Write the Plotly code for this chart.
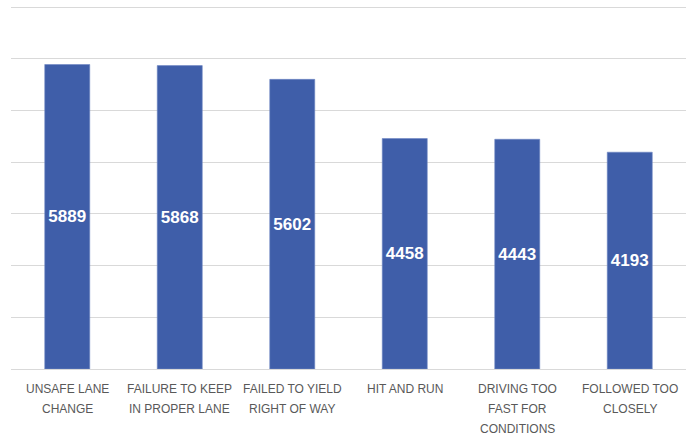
import plotly.graph_objects as go

# Crash causes and counts
categories = [
    "UNSAFE LANE<br>CHANGE",
    "FAILURE TO KEEP<br>IN PROPER LANE",
    "FAILED TO YIELD<br>RIGHT OF WAY",
    "HIT AND RUN",
    "DRIVING TOO<br>FAST FOR<br>CONDITIONS",
    "FOLLOWED TOO<br>CLOSELY",
]
counts = [5889, 5868, 5602, 4458, 4443, 4193]

BAR_COLOR = "#3F5EA9"
GRID_COLOR = "#D9D9D9"
LABEL_COLOR = "#595959"

fig = go.Figure()
fig.add_trace(go.Bar(
    x=list(range(len(categories))),
    y=counts,
    marker=dict(color=BAR_COLOR, line=dict(color="#6F87C2", width=0.6)),
    text=[str(v) for v in counts],
    textposition="inside",
    insidetextanchor="middle",
    textangle=0,
    textfont=dict(family="Liberation Sans", size=17, color="white", weight="bold"),
    hoverinfo="skip",
))

# Category labels, one annotation per line for even line spacing
for i, cat in enumerate(categories):
    for j, line in enumerate(cat.split("<br>")):
        fig.add_annotation(
            x=i, y=0, xref="x", yref="y",
            text=line, showarrow=False,
            yanchor="top", xanchor="center",
            yshift=-11 - 20 * j,
            font=dict(family="Liberation Sans", size=12, color=LABEL_COLOR),
        )

fig.update_layout(
    width=689, height=436,
    margin=dict(l=11, r=3, t=5, b=67),
    paper_bgcolor="white", plot_bgcolor="white",
    bargap=0.6,
    showlegend=False,
    xaxis=dict(
        range=[-0.5, len(categories) - 0.5],
        showticklabels=False, showgrid=False, zeroline=False,
        showline=False, fixedrange=True,
    ),
    yaxis=dict(
        range=[0, 7040], tickvals=[1000, 2000, 3000, 4000, 5000, 6000, 7000],
        showticklabels=False, showgrid=True,
        gridcolor=GRID_COLOR, gridwidth=1.3,
        zeroline=True, zerolinecolor=GRID_COLOR, zerolinewidth=1.3,
        showline=False, fixedrange=True,
    ),
)

fig.write_html("out.html")
